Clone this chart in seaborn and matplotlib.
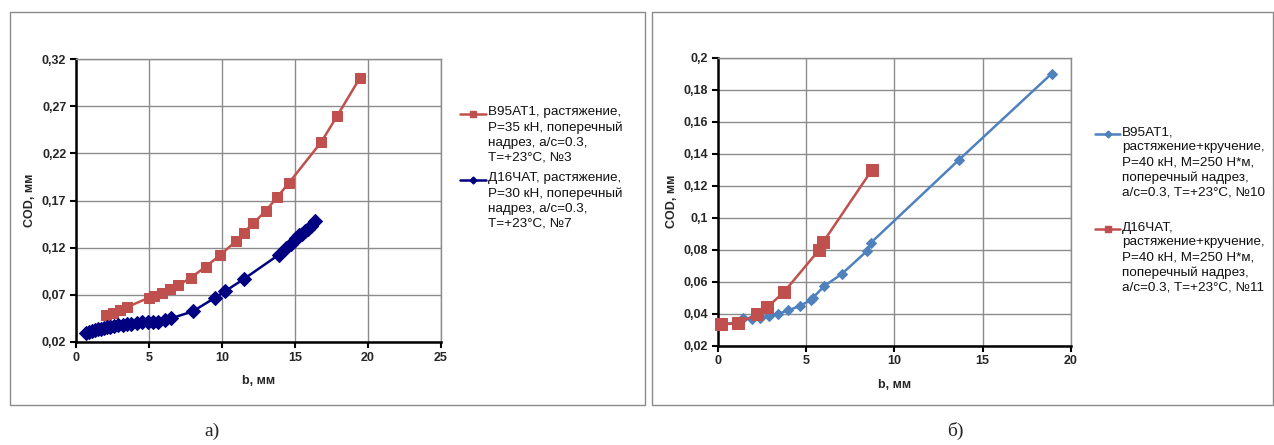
import matplotlib
matplotlib.use("Agg")
import matplotlib.pyplot as plt
import seaborn as sns
import numpy as np
from matplotlib.patches import Rectangle
from matplotlib.lines import Line2D

# ---------- data ----------
# panel a
a_red_label = "В95АТ1, растяжение,\nP=35 кН, поперечный\nнадрез, a/c=0.3,\nT=+23°C, №3"
a_red_x = [2.05, 2.56, 3.0, 3.5, 5.0, 5.35, 5.9, 6.45, 7.0, 7.85, 8.9, 9.86, 10.96, 11.5, 12.15,
           13.0, 13.8, 14.6, 16.8, 17.9, 19.45]
a_red_y = [0.049, 0.051, 0.054, 0.057, 0.067, 0.069, 0.072, 0.076, 0.080, 0.088, 0.100, 0.112,
           0.127, 0.136, 0.146, 0.159, 0.174, 0.189, 0.232, 0.260, 0.300]
a_blue_label = "Д16ЧАТ, растяжение,\nP=30 кН, поперечный\nнадрез, a/c=0.3,\nT=+23°C, №7"
a_blue_x = [0.7, 0.9, 1.1, 1.3, 1.5, 1.7, 1.9, 2.1, 2.3, 2.6, 2.9, 3.2, 3.5, 3.8, 4.2, 4.5, 4.9,
            5.3, 5.6, 6.1, 6.5, 8.0, 9.5, 10.2, 11.5, 13.9, 14.4, 14.7, 14.9, 15.1, 15.3, 15.5,
            15.7, 15.9, 16.1, 16.4]
a_blue_y = [0.030, 0.031, 0.032, 0.033, 0.0335, 0.034, 0.035, 0.0355, 0.036, 0.037, 0.0375,
            0.038, 0.039, 0.0395, 0.040, 0.041, 0.0415, 0.041, 0.041, 0.043, 0.045, 0.0525,
            0.0667, 0.0737, 0.0868, 0.1126, 0.120, 0.124, 0.127, 0.130, 0.133, 0.135, 0.138,
            0.140, 0.143, 0.148]
a_xticks = [0, 5, 10, 15, 20, 25]
a_yticks = [0.02, 0.07, 0.12, 0.17, 0.22, 0.27, 0.32]

# panel b
b_blue_label = "В95АТ1,\nрастяжение+кручение,\nP=40 кН, M=250 Н*м,\nпоперечный надрез,\na/c=0.3, T=+23°C, №10"
b_blue_x = [0.2, 1.2, 1.45, 1.92, 2.39, 2.9, 3.43, 4.0, 4.66, 5.3, 5.4, 6.03, 7.02, 8.43, 8.68,
            13.64, 18.9]
b_blue_y = [0.0335, 0.0345, 0.0371, 0.0365, 0.0375, 0.0388, 0.040, 0.042, 0.045, 0.0486, 0.050,
            0.0573, 0.0648, 0.079, 0.0844, 0.136, 0.190]
b_red_label = "Д16ЧАТ,\nрастяжение+кручение,\nP=40 кН, M=250 Н*м,\nпоперечный надрез,\na/c=0.3, T=+23°C, №11"
b_red_x = [0.19, 1.17, 2.2, 2.81, 3.77, 5.75, 5.96, 8.74]
b_red_y = [0.0333, 0.034, 0.0396, 0.044, 0.0538, 0.080, 0.0846, 0.130]
b_xticks = [0, 5, 10, 15, 20]
b_yticks = [0.02, 0.04, 0.06, 0.08, 0.10, 0.12, 0.14, 0.16, 0.18, 0.20]

x_label = "b, мм"
y_label = "COD, мм"
panel_labels = ["а)", "б)"]

RED = "#C0504D"
NAVY = "#000080"
BLUE = "#4F81BD"

sns.set_theme(style="white")
plt.rcParams["font.family"] = ["Liberation Sans", "DejaVu Sans"]

W, H = 1274, 445
fig = plt.figure(figsize=(W / 100, H / 100), dpi=100)

def fx(px):
    return px / W

def fy(py):
    return 1 - py / H

# panel frames
for x0, x1 in [(10, 645), (652, 1273)]:
    fig.patches.append(Rectangle((fx(x0), fy(405)), fx(x1 - x0), (405 - 12) / H,
                                 transform=fig.transFigure, fill=False,
                                 edgecolor="#8a8a8a", linewidth=1.0, zorder=0))

axA = fig.add_axes([fx(76), fy(342), fx(441 - 76), (342 - 59) / H])
axB = fig.add_axes([fx(717.7), fy(345.7), fx(1071 - 717.7), (345.7 - 57.7) / H])

sns.lineplot(x=a_red_x, y=a_red_y, ax=axA, color=RED, marker="s", markersize=7,
             markeredgecolor=RED, linewidth=1.8, sort=False, legend=False)
sns.lineplot(x=a_blue_x, y=a_blue_y, ax=axA, color=NAVY, marker="D", markersize=7.5,
             markeredgecolor=NAVY, linewidth=1.8, sort=False, legend=False)

sns.lineplot(x=b_blue_x, y=b_blue_y, ax=axB, color=BLUE, marker="D", markersize=5.5,
             markeredgecolor=BLUE, linewidth=1.8, sort=False, legend=False)
sns.lineplot(x=b_red_x, y=b_red_y, ax=axB, color=RED, marker="s", markersize=8.5,
             markeredgecolor=RED, linewidth=1.8, sort=False, legend=False)

def fmt(v):
    s = f"{v:.2f}".rstrip("0").rstrip(".")
    return s.replace(".", ",")

for ax, xt, yt in [(axA, a_xticks, a_yticks), (axB, b_xticks, b_yticks)]:
    ax.set_xlim(xt[0], xt[-1])
    ax.set_ylim(yt[0], yt[-1])
    ax.set_xticks(xt)
    ax.set_yticks(yt)
    ax.set_xticklabels([str(v) for v in xt], fontsize=9, fontweight="bold")
    ax.set_yticklabels([fmt(v) for v in yt], fontsize=9, fontweight="bold")
    ax.grid(True, color="#8c8c8c", linewidth=1.0)
    ax.set_axisbelow(True)
    for s in ["left", "bottom"]:
        ax.spines[s].set_color("black")
        ax.spines[s].set_linewidth(1.8)
    for s in ["top", "right"]:
        ax.spines[s].set_color("#8c8c8c")
        ax.spines[s].set_linewidth(1.0)
    ax.tick_params(axis="both", direction="out", length=4, width=1.5, color="black",
                   pad=3, left=True, bottom=True)
    ax.set_xlabel(x_label, fontsize=9, fontweight="bold", labelpad=8)
    ax.set_ylabel(y_label, fontsize=9, fontweight="bold", labelpad=4)
    ax.set_facecolor("white")
    for sp in ax.spines.values():
        sp.set_zorder(3)
    for ln in ax.lines:
        ln.set_clip_on(False)
        ln.set_zorder(4)

# legends: handle aligned with the first line of each label
legend_entries = [
    # (label, color, marker, markersize, handle_x0, handle_x1, text_x, first_line_y)
    (a_red_label, RED, "s", 4.5, 460, 486, 488, 114),
    (a_blue_label, NAVY, "D", 3.5, 460, 486, 488, 180),
    (b_blue_label, BLUE, "D", 3.5, 1095, 1120, 1122, 134),
    (b_red_label, RED, "s", 4.5, 1095, 1120, 1122, 229),
]
for label, col, mk, ms, hx0, hx1, tx, ly in legend_entries:
    fig.add_artist(Line2D([fx(hx0), fx((hx0 + hx1) / 2), fx(hx1)], [fy(ly)] * 3,
                          transform=fig.transFigure, color=col, linewidth=1.8,
                          marker=mk, markersize=ms, markevery=[1],
                          markeredgecolor=col))
    fig.text(fx(tx), fy(ly - 7.5), label, fontsize=9.7, ha="left", va="top",
             linespacing=1.32, color="#111111")

fig.text(fx(212), fy(431), panel_labels[0], fontsize=14, ha="center", va="center",
         family=["Liberation Serif", "DejaVu Serif"])
fig.text(fx(955), fy(431), panel_labels[1], fontsize=14, ha="center", va="center",
         family=["Liberation Serif", "DejaVu Serif"])

fig.savefig("out.png", dpi=100, facecolor="white")
